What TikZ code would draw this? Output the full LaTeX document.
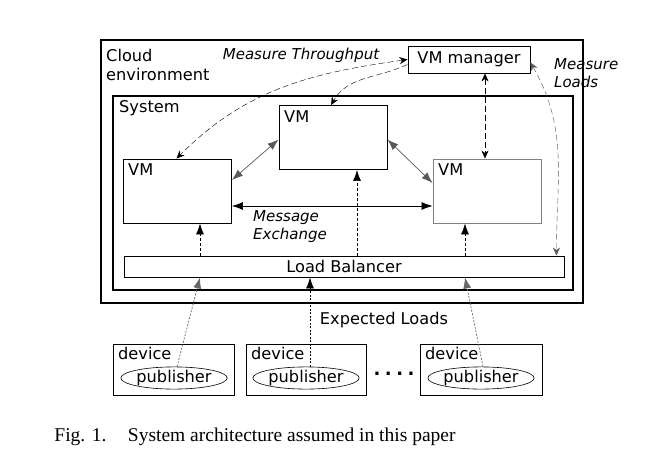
\documentclass[tikz,border=0pt]{standalone}
\usepackage{fontspec}
\setmainfont{DejaVu Sans}
\newfontfamily\capfont{Liberation Serif}
\usetikzlibrary{shapes.geometric, arrows, arrows.meta}
\tikzstyle{box} = [draw, rectangle, inner sep=0pt, line width=0.9pt]
\tikzstyle{vmbox} = [box, minimum width=108pt, minimum height=64pt]
\tikzstyle{lbl} = [inner sep=0pt, anchor=north west, align=left]
\tikzstyle{itlbl} = [lbl, font=\fontsize{15}{18}\selectfont\itshape]
\tikzstyle{ctrl} = [dash pattern=on 6pt off 3pt, {Stealth[length=8pt,width=7pt]}-{Stealth[length=8pt,width=7pt]}]
\tikzstyle{ctrlend} = [dash pattern=on 6pt off 3pt, -{Stealth[length=8pt,width=7pt]}]
\tikzstyle{link} = [gray!70!black, line width=0.7pt, {Latex[length=11pt,width=8pt]}-{Latex[length=11pt,width=8pt]}]
\tikzstyle{feed} = [dash pattern=on 3pt off 2pt, line width=0.7pt, -{Latex[length=11pt,width=8pt]}]
\tikzstyle{load} = [gray!80!black, dash pattern=on 2pt off 1.5pt, line width=0.7pt, -{Latex[length=11pt,width=8pt]}]

\begin{document}
\begin{tikzpicture}[x=1pt, y=1pt, font=\fontsize{16.2}{19}\selectfont]
            \useasboundingbox (0,0) rectangle (661,-474);
            \node[box, line width=1.3pt, minimum width=482pt, minimum height=263pt] (cloud) at (342,-171.5) {};
            \node[lbl] (cloudlbl) at (106,-49) {Cloud\\[0pt]environment};
            \node[box, line width=1.3pt, minimum width=460pt, minimum height=194pt] (sys) at (343,-193) {};
            \node[lbl] (syslbl) at (119,-100) {System};
            \node[box, minimum width=122pt, minimum height=27pt] (vmm) at (469,-59.5) {VM manager};
            \node[vmbox] (vmtop) at (333,-137.5) {};
            \node[vmbox] (vmleft) at (177.5,-191) {};
            \node[vmbox, draw=gray] (vmright) at (487,-191) {};
            \node[lbl] (vmtoplbl) at (284,-110) {VM};
            \node[lbl] (vmleftlbl) at (128,-163) {VM};
            \node[lbl] (vmrightlbl) at (438,-163) {VM};
            \node[box, minimum width=440pt, minimum height=21pt] (lb) at (344,-266.5) {Load Balancer};
            \node[itlbl, anchor=center] (mtp) at (301,-55) {Measure Throughput};
            \node[itlbl] (mld) at (554,-58) {Measure\\[0pt]Loads};
            \node[itlbl] (mex) at (253,-210) {Message\\[0pt]Exchange};
            \node[inner sep=0pt] (exl) at (384,-320) {Expected Loads};
            \node[box, minimum width=121pt, minimum height=51pt] (dev1) at (173.5,-369.5) {};
            \node[box, minimum width=120pt, minimum height=51pt] (dev2) at (306,-369.5) {};
            \node[box, minimum width=122pt, minimum height=51pt] (dev3) at (481,-369.5) {};
            \node[lbl] (dev1lbl) at (118,-347) {device};
            \node[lbl] (dev2lbl) at (251,-347) {device};
            \node[lbl] (dev3lbl) at (425,-347) {device};
            \node[draw, ellipse, inner sep=0pt, line width=0.6pt, minimum width=100pt, minimum height=20pt] (pub1) at (174,-378) {publisher};
            \node[draw, ellipse, inner sep=0pt, line width=0.6pt, minimum width=100pt, minimum height=20pt] (pub2) at (306,-378) {publisher};
            \node[draw, ellipse, inner sep=0pt, line width=0.6pt, minimum width=102pt, minimum height=20pt] (pub3) at (481,-378) {publisher};
            \node[inner sep=0pt, font=\fontsize{18}{20}\selectfont\bfseries] (dots) at (394,-374) {.\hspace{4.5pt}.\hspace{4.5pt}.\hspace{4.5pt}.};
            \node[inner sep=0pt] (cap) at (255,-437) {\capfont\fontsize{19.5}{22}\selectfont Fig. 1.\hspace{1.1em}System architecture assumed in this paper};
            \draw[ctrl] (vmm.west) to[out=188, in=45] ([xshift=-1pt]vmleft.north);
            \draw[ctrlend] ([yshift=-5pt]vmm.west) to[out=205, in=60] ([xshift=-2pt]vmtop.north);
            \draw[ctrl] ([xshift=16pt]vmm.south) -- ([xshift=16pt]vmm.south |- vmright.north);
            \draw[ctrl, gray!70!black] ([yshift=-3pt]vmm.east) to[out=-60, in=90] ([xshift=-8pt]lb.north east);
            \draw[link] ([yshift=11pt]vmleft.east) -- ([yshift=-2pt]vmtop.west);
            \draw[link] ([yshift=-2pt]vmtop.east) -- ([yshift=8pt]vmright.west);
            \draw[link, black] ([yshift=-15pt]vmleft.east) -- ([yshift=-15pt]vmright.west);
            \draw[feed] (lb.north -| 200,0) -- (vmleft.south -| 200,0);
            \draw[feed] (lb.north -| 357,0) -- (vmtop.south -| 357,0);
            \draw[feed] (lb.north -| 465,0) -- (vmright.south -| 465,0);
            \draw[load] ([xshift=3pt]pub1.north) -- (lb.south -| 200,0);
            \draw[load, black] (pub2.north -| 310,0) -- (lb.south -| 310,0);
            \draw[load] ([xshift=2pt]pub3.north) -- (lb.south -| 465,0);
        \end{tikzpicture}
\end{document}
